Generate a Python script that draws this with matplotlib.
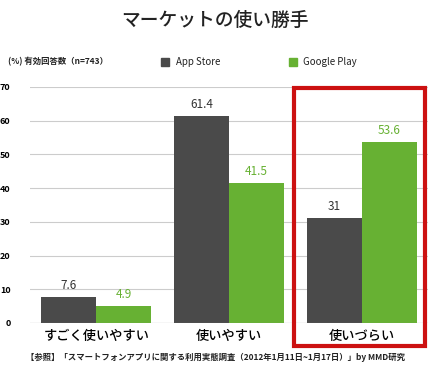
import matplotlib.pyplot as plt
import numpy as np
from matplotlib.patches import Rectangle

plt.rcParams['font.family'] = ['Noto Sans CJK JP', 'DejaVu Sans']

# data
categories = ['すごく使いやすい', '使いやすい', '使いづらい']
app_store = [7.6, 61.4, 31]
google_play = [4.9, 41.5, 53.6]
yticks = [0, 10, 20, 30, 40, 50, 60, 70]

dark = '#4a4a4a'
green = '#67b133'

fig = plt.figure(figsize=(4.3, 3.73), dpi=100)
ax = fig.add_axes([30 / 430, 1 - 323 / 373, 398 / 430, 236 / 373])

x = np.arange(len(categories))
w = 0.415
b1 = ax.bar(x - w / 2, app_store, w, color=dark, zorder=3)
b2 = ax.bar(x + w / 2, google_play, w, color=green, zorder=3)

for rect, v in zip(b1, app_store):
    ax.text(rect.get_x() + rect.get_width() / 2, v + 1.5, str(v), ha='center', va='bottom',
            color='#333333', fontsize=8.5)
for rect, v in zip(b2, google_play):
    ax.text(rect.get_x() + rect.get_width() / 2, v + 1.5, str(v), ha='center', va='bottom',
            color=green, fontsize=8.5)

ax.set_xlim(-0.5, 2.5)
ax.set_ylim(0, 70)
ax.set_yticks(yticks)
ax.set_yticklabels([str(t) for t in yticks], fontsize=6.5, fontweight='bold')
ax.tick_params(axis='y', length=0, pad=14)
ax.tick_params(axis='x', length=0, pad=4)
ax.set_xticks(x)
ax.set_xticklabels(categories, fontsize=9.5, fontweight='medium')
ax.yaxis.grid(True, color='#cccccc', linewidth=0.8, zorder=0)
for s in ax.spines.values():
    s.set_visible(False)
ax.axhline(0, color='#999999', linewidth=0.8, zorder=4)

fig.text(0.5, 1 - 20 / 373, 'マーケットの使い勝手', ha='center', va='center', fontsize=13.5,
         fontweight='medium', color='#222222')
fig.text(8 / 430, 1 - 62 / 373, '(%) 有効回答数（n=743）', ha='left', va='center', fontsize=6,
         fontweight='bold', color='#222222')
fig.patches.append(Rectangle((161 / 430, 1 - 66 / 373), 8 / 430, 8 / 373, color=dark,
                             transform=fig.transFigure))
fig.text(176 / 430, 1 - 62 / 373, 'App Store', ha='left', va='center', fontsize=7, color='#222222')
fig.patches.append(Rectangle((289 / 430, 1 - 66 / 373), 8 / 430, 8 / 373, color=green,
                             transform=fig.transFigure))
fig.text(303 / 430, 1 - 62 / 373, 'Google Play', ha='left', va='center', fontsize=7, color='#222222')

fig.text(0.5, 1 - 357 / 373,
         '【参照】「スマートフォンアプリに関する利用実態調査（2012年1月11日~1月17日）」by MMD研究',
         ha='center', va='center', fontsize=6, fontweight='bold', color='#222222')

fig.patches.append(Rectangle((294 / 430, 1 - 346 / 373), 131 / 430, 258 / 373, fill=False,
                             edgecolor='#cc1111', linewidth=3, transform=fig.transFigure))

fig.savefig('out.png', dpi=100)
